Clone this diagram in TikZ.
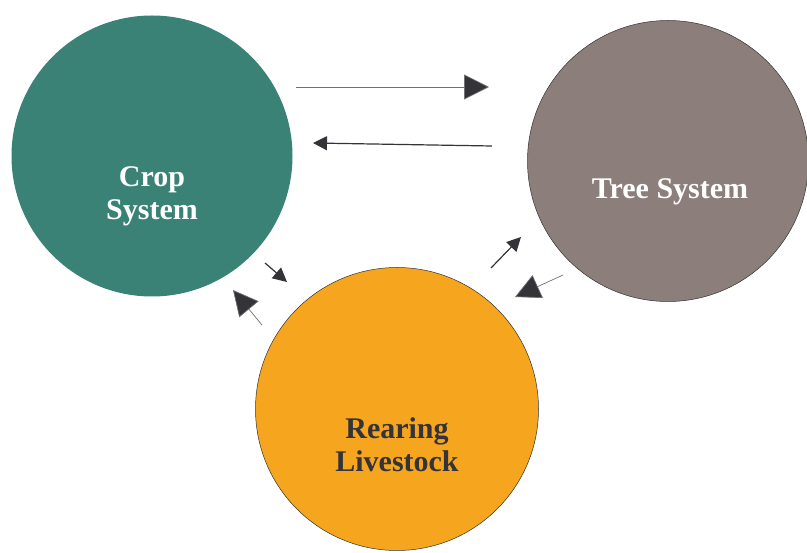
\documentclass[tikz,border=0pt]{standalone}
\usepackage{fontspec}
\setmainfont{Liberation Serif}
\usetikzlibrary{arrows.meta}
\definecolor{cropgreen}{HTML}{3A8276}
\definecolor{treegray}{HTML}{8C7F7B}
\definecolor{livestockorange}{HTML}{F6A51F}
\definecolor{arrowdark}{HTML}{333338}
\begin{document}
\begin{tikzpicture}[x=1pt,y=-1pt,
  system/.style={circle,minimum size=281pt,inner sep=0pt},
  systemtext/.style={font=\bfseries\fontsize{30}{33}\selectfont,align=center},
  bigflow/.style={draw=arrowdark!70,line width=0.7pt,-{Triangle[length=25pt,width=25pt,fill=arrowdark]}},
  smallflow/.style={draw=arrowdark,line width=1.2pt,-{Triangle[length=14pt,width=14pt,fill=arrowdark]}}]
  \useasboundingbox (0,0) rectangle (807,553);
  % the three systems
  \node[system,fill=cropgreen] (crop) at (152,156) {};
  \node[systemtext,text=white] (croptext) at (152,196) {Crop\\System};
  \node[system,fill=treegray,draw=black!80,line width=0.5pt] (tree) at (668,161) {};
  \node[systemtext,text=white] (treetext) at (670,192) {Tree System};
  \node[system,fill=livestockorange,draw=black!80,line width=0.5pt,minimum size=283pt] (livestock) at (397,409) {};
  \node[systemtext,text=arrowdark] (livestocktext) at (397,445) {Rearing\\Livestock};
  % arrow ends
  \coordinate (ct1) at (296,87);
  \coordinate (ct2) at (489,87);
  \coordinate (tc1) at (492,146);
  \coordinate (tc2) at (313,143);
  \coordinate (cl1) at (265,263);
  \coordinate (cl2) at (287,282);
  \coordinate (lc1) at (262,325);
  \coordinate (lc2) at (233,290);
  \coordinate (lt1) at (491,268);
  \coordinate (lt2) at (521,237);
  \coordinate (tl1) at (563,275);
  \coordinate (tl2) at (515,297);
  % flows
  \draw[bigflow] (ct1) -- (ct2);
  \draw[smallflow] (tc1) -- (tc2);
  \draw[smallflow] (cl1) -- (cl2);
  \draw[bigflow] (lc1) -- (lc2);
  \draw[smallflow] (lt1) -- (lt2);
  \draw[bigflow] (tl1) -- (tl2);
\end{tikzpicture}
\end{document}
